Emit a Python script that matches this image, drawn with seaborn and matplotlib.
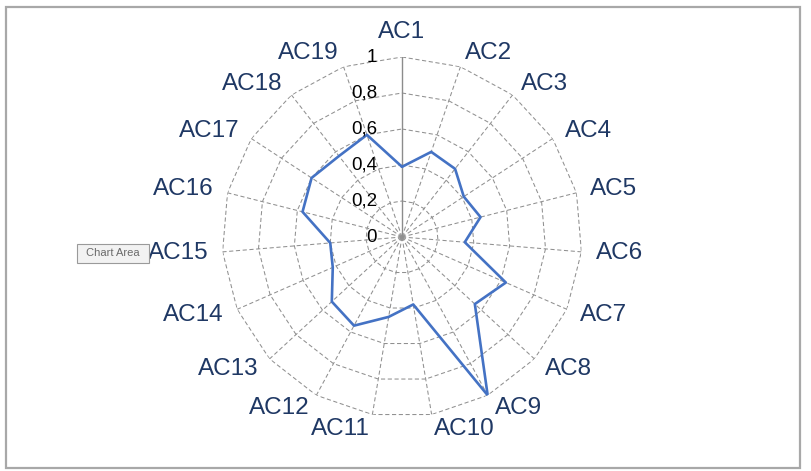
import numpy as np
import pandas as pd
import matplotlib
matplotlib.use("Agg")
import matplotlib.pyplot as plt
from matplotlib.patches import Rectangle
import seaborn as sns

categories = ["AC1", "AC2", "AC3", "AC4", "AC5", "AC6", "AC7", "AC8", "AC9", "AC10",
              "AC11", "AC12", "AC13", "AC14", "AC15", "AC16", "AC17", "AC18", "AC19"]
values = [0.39, 0.50, 0.48, 0.41, 0.45, 0.35, 0.63, 0.55, 1.00, 0.38,
          0.45, 0.56, 0.53, 0.42, 0.40, 0.57, 0.60, 0.57, 0.60]
ticks = [0, 0.2, 0.4, 0.6, 0.8, 1]
tick_labels = ["0", "0,2", "0,4", "0,6", "0,8", "1"]

sns.set_style("white")
plt.rcParams["font.family"] = ["Liberation Sans", "DejaVu Sans"]

n = len(categories)
angles = np.linspace(0, 2 * np.pi, n, endpoint=False)
closed_angles = np.append(angles, angles[0])

df = pd.DataFrame({"theta": closed_angles, "value": values + values[:1]})

fig = plt.figure(figsize=(8.11, 4.71), dpi=100)
fig.patch.set_facecolor("white")

# outer chart-area border
fig.patches.append(Rectangle((6 / 811, 1 - 468 / 471), 794 / 811, 461 / 471,
                             transform=fig.transFigure, fill=False,
                             edgecolor="#a8a8a8", linewidth=1.6))

cx, cy, rad = 402 / 811, 1 - 237 / 471, 180
ax = fig.add_axes([cx - rad / 811, cy - rad / 471, 2 * rad / 811, 2 * rad / 471],
                  projection="polar")
ax.set_theta_zero_location("N")
ax.set_theta_direction(-1)
ax.set_ylim(0, 1)
ax.grid(False)
ax.spines["polar"].set_visible(False)
ax.set_xticks([])
ax.set_yticks([])
ax.patch.set_alpha(0)

grid_kw = dict(color="#909090", linewidth=0.75, linestyle=(0, (4, 2.5)))
# polygon rings
for lv in ticks[1:]:
    ax.plot(closed_angles, [lv] * (n + 1), **grid_kw)
# spokes
for i, a in enumerate(angles):
    if i == 0:
        ax.plot([a, a], [0, 1], color="#8c8c8c", linewidth=1.0)
    else:
        ax.plot([a, a], [0, 1], **grid_kw)

sns.lineplot(data=df, x="theta", y="value", sort=False, ax=ax,
             color="#4472C4", linewidth=1.9, estimator=None)
ax.set_xlabel("")
ax.set_ylabel("")

# value axis labels
for lv, lbl in zip(ticks, tick_labels):
    ax.annotate(lbl, xy=(0, lv), xytext=(-18, 0), textcoords="offset points",
                ha="right", va="center", fontsize=13.5, color="black")

# category labels
for a, cat in zip(angles, categories):
    s, c = np.sin(a), np.cos(a)
    if abs(s) < 0.1:
        ha = "center"
    elif s > 0:
        ha = "left"
    else:
        ha = "right"
    va = "bottom" if c > 0.95 else "center"
    ax.text(a, 1.08, cat, ha=ha, va=va, fontsize=17.5, color="#1F3864")

# tooltip left over from the spreadsheet
fig.patches.append(Rectangle((77 / 811, 1 - 263 / 471), 72 / 811, 19 / 471,
                             transform=fig.transFigure, facecolor="#f2f2f2",
                             edgecolor="#9a9a9a", linewidth=0.8))
fig.text(113 / 811, 1 - 253.5 / 471, "Chart Area", ha="center", va="center",
         fontsize=8, color="#6a6a6a")

fig.savefig("out.png", dpi=100)
